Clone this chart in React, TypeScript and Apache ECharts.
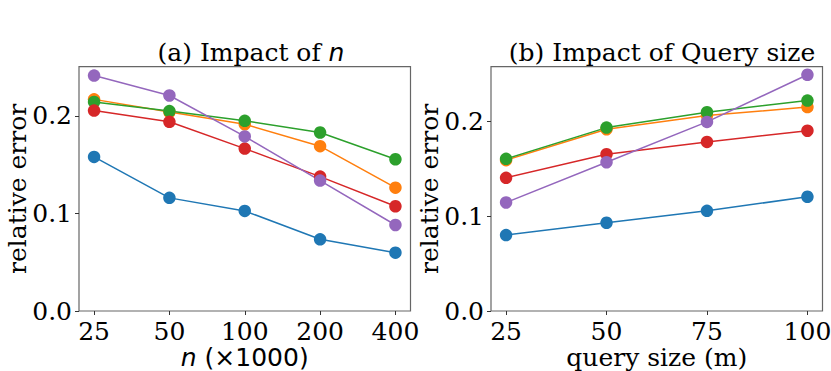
import React, { useEffect, useRef } from "react";
import * as echarts from "echarts";

const nLabels = ["25", "50", "100", "200", "400"];
const nIndex = [0, 1, 2, 3, 4];
const qSizes = [25, 50, 75, 100];
const yTicks = [0, 0.1, 0.2];

const colors = ["#1f77b4", "#ff7f0e", "#2ca02c", "#d62728", "#9467bd"];

const leftBlue = [0.158, 0.116, 0.1026, 0.0735, 0.0598];
const leftOrange = [0.217, 0.204, 0.1915, 0.169, 0.1265];
const leftGreen = [0.2144, 0.205, 0.195, 0.183, 0.1556];
const leftRed = [0.2055, 0.194, 0.1665, 0.1378, 0.1074];
const leftPurple = [0.2414, 0.221, 0.179, 0.1337, 0.0882];

const rightBlue = [0.08, 0.093, 0.1056, 0.1204];
const rightOrange = [0.159, 0.1916, 0.206, 0.215];
const rightGreen = [0.1604, 0.1933, 0.2095, 0.2218];
const rightRed = [0.1404, 0.1653, 0.1782, 0.19];
const rightPurple = [0.1144, 0.1568, 0.1993, 0.249];

const leftSeries = [leftBlue, leftOrange, leftGreen, leftRed, leftPurple];
const rightSeries = [rightBlue, rightOrange, rightGreen, rightRed, rightPurple];

const SERIF = "DejaVu Serif";
const FS = 25;
const LH = 25;

export default function App() {
  const ref = useRef<HTMLDivElement>(null);
  useEffect(() => {
    if (!ref.current) return;
    const chart = echarts.init(ref.current, null, { renderer: "svg" });
    const rich = {
      i: { fontFamily: "DejaVu Sans", fontStyle: "italic", fontSize: FS, lineHeight: LH, color: "#000" },
      s: { fontFamily: "DejaVu Sans", fontSize: FS, lineHeight: LH, color: "#000" },
    };
    const xAxisBase = (gridIndex: number, min: number, max: number, ticks: number[], fmt: (v: number) => string, name: string) => ({
      type: "value",
      gridIndex,
      min,
      max,
      axisLine: { show: false, onZero: false },
      splitLine: { show: false },
      axisTick: { show: true, customValues: ticks, length: 4, inside: false, lineStyle: { color: "#333", width: 1 } },
      axisLabel: { customValues: ticks, formatter: fmt, margin: 8, color: "#000", fontFamily: SERIF, fontSize: FS, lineHeight: LH },
      name,
      nameLocation: "middle",
      nameGap: 34,
      nameMoveOverlap: false,
      nameTextStyle: { color: "#000", fontFamily: SERIF, fontSize: FS, lineHeight: LH, rich },
    });
    const yAxisBase = (gridIndex: number, max: number) => ({
      type: "value",
      gridIndex,
      min: 0,
      max,
      axisLine: { show: false, onZero: false },
      splitLine: { show: false },
      axisTick: { show: true, customValues: yTicks, length: 4, lineStyle: { color: "#333", width: 1 } },
      axisLabel: { customValues: yTicks, formatter: (v: number) => v.toFixed(1), margin: 7, color: "#000", fontFamily: SERIF, fontSize: FS, lineHeight: LH },
      name: "relative error",
      nameLocation: "middle",
      nameGap: 49,
      nameMoveOverlap: false,
      nameTextStyle: { color: "#000", fontFamily: SERIF, fontSize: FS, lineHeight: LH },
    });
    const mkSeries = (data: number[][], idx: number, color: string) => ({
      type: "line",
      xAxisIndex: idx,
      yAxisIndex: idx,
      data,
      symbol: "circle",
      symbolSize: 12.5,
      showSymbol: true,
      lineStyle: { color, width: 1.5 },
      itemStyle: { color, borderWidth: 0 },
    });
    const series: any[] = [];
    leftSeries.forEach((s, k) => series.push(mkSeries(s.map((v, i) => [nIndex[i], v]), 0, colors[k])));
    rightSeries.forEach((s, k) => series.push(mkSeries(s.map((v, i) => [qSizes[i], v]), 1, colors[k])));

    const gridCommon = {
      top: 66.7,
      width: 331.5,
      height: 244.3,
      show: true,
      borderColor: "#666",
      borderWidth: 1.2,
      backgroundColor: "transparent",
      containLabel: false,
      outerBoundsMode: "none",
    };

    chart.setOption({
      animation: false,
      backgroundColor: "#fff",
      title: [
        {
          text: "(a) Impact of {i|n}",
          left: 246,
          top: 35,
          textAlign: "center",
          textStyle: { fontFamily: SERIF, fontSize: FS, fontWeight: "normal", color: "#000", rich },
        },
        {
          text: "(b) Impact of Query size",
          left: 657,
          top: 35,
          textAlign: "center",
          textStyle: { fontFamily: SERIF, fontSize: FS, fontWeight: "normal", color: "#000" },
        },
      ],
      grid: [
        { ...gridCommon, left: 79 },
        { ...gridCommon, left: 491 },
      ],
      xAxis: [
        xAxisBase(0, -0.2, 4.2, nIndex, (v: number) => nLabels[Math.round(v)] ?? "", "{i|n} {s|(×1000)}"),
        xAxisBase(1, 21.25, 103.75, qSizes, (v: number) => String(v), "query size (m)"),
      ],
      yAxis: [yAxisBase(0, 0.2505), yAxisBase(1, 0.2575)],
      series,
    });
    return () => chart.dispose();
  }, []);
  return <div ref={ref} style={{ position: "fixed", left: 0, top: 0, width: 831, height: 371 }} />;
}
